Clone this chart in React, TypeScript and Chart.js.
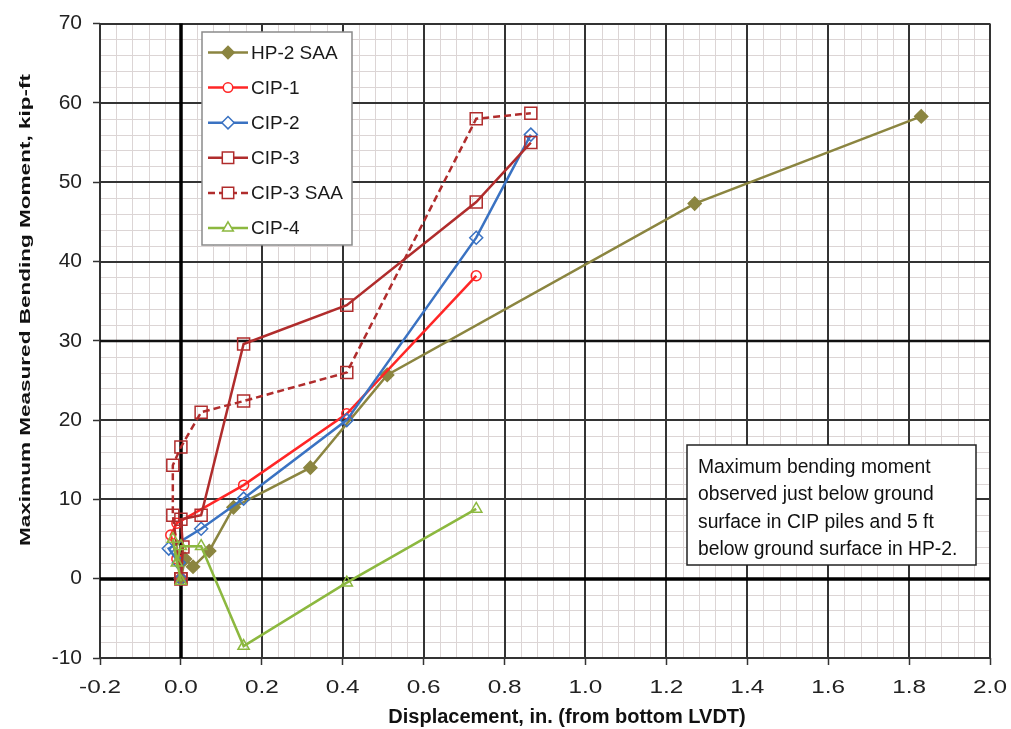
import React, { useEffect, useRef } from 'react';
import { Chart, registerables } from 'chart.js';

Chart.register(...registerables);

// ---------- data ----------
const seriesNames = ['HP-2 SAA', 'CIP-1', 'CIP-2', 'CIP-3', 'CIP-3 SAA', 'CIP-4'];

const hp2X = [0, 0.01, 0.03, 0.07, 0.13, 0.32, 0.51, 1.27, 1.83];
const hp2Y = [0, 2.5, 1.5, 3.5, 9, 14, 25.7, 47.3, 58.3];

const cip1X = [0, -0.01, -0.025, -0.01, 0.155, 0.41, 0.73];
const cip1Y = [0, 2.5, 5.5, 7, 11.8, 20.8, 38.2];

const cip2X = [0, -0.005, -0.03, 0.05, 0.155, 0.41, 0.73, 0.865];
const cip2Y = [0, 2, 3.8, 6.3, 10.1, 20, 43, 56];

const cip3X = [0, 0.005, 0, 0.05, 0.155, 0.41, 0.73, 0.865];
const cip3Y = [0, 4, 7.5, 8, 29.6, 34.5, 47.5, 55];

const cip3SaaX = [0, -0.02, -0.02, 0, 0.05, 0.155, 0.41, 0.73, 0.865];
const cip3SaaY = [0, 8, 14.3, 16.6, 21, 22.4, 26, 58, 58.7];

const cip4X = [0, -0.02, -0.01, 0, 0.05, 0.155, 0.41, 0.73];
const cip4Y = [-0.3, 5, 2, 4.1, 4.1, -8.5, -0.5, 8.8];

const xMajorTicks = [-0.2, 0, 0.2, 0.4, 0.6, 0.8, 1.0, 1.2, 1.4, 1.6, 1.8, 2.0];
const xTickLabels = ['-0.2', '0.0', '0.2', '0.4', '0.6', '0.8', '1.0', '1.2', '1.4', '1.6', '1.8', '2.0'];
const yMajorTicks = [-10, 0, 10, 20, 30, 40, 50, 60, 70];
const yTickLabels = ['-10', '0', '10', '20', '30', '40', '50', '60', '70'];

const xTitle = 'Displacement, in. (from bottom LVDT)';
const yTitle = 'Maximum Measured Bending Moment, kip-ft';
const noteLines = [
  'Maximum bending moment',
  'observed just below ground',
  'surface in CIP piles and 5 ft',
  'below ground surface in HP-2.',
];

// ---------- styles ----------
const FONT = "'Liberation Sans', Arial, sans-serif";
const colors = ['#8b8540', '#ff2626', '#3a72c2', '#b02c2c', '#b02c2c', '#8cb83f'];
const shapes = ['rectRot', 'circle', 'rectRot', 'rect', 'rect', 'triangle'];
const radii = [6.5, 5, 6.5, 8.5, 8.5, 6.5];
const filled = [true, false, false, false, false, false];
const dashes: number[][] = [[], [], [], [], [7, 4], []];

const allX = [hp2X, cip1X, cip2X, cip3X, cip3SaaX, cip4X];
const allY = [hp2Y, cip1Y, cip2Y, cip3Y, cip3SaaY, cip4Y];

const isMajor = (list: number[], v: number) => list.some((t) => Math.abs(t - v) < 1e-6);

function drawMarker(ctx: CanvasRenderingContext2D, shape: string, x: number, y: number, r: number, color: string, fill: boolean) {
  ctx.save();
  ctx.setLineDash([]);
  ctx.beginPath();
  if (shape === 'circle') {
    ctx.arc(x, y, r, 0, Math.PI * 2);
  } else if (shape === 'rectRot') {
    ctx.moveTo(x, y - r);
    ctx.lineTo(x + r, y);
    ctx.lineTo(x, y + r);
    ctx.lineTo(x - r, y);
    ctx.closePath();
  } else if (shape === 'rect') {
    const s = r * Math.SQRT1_2;
    ctx.rect(x - s, y - s, 2 * s, 2 * s);
  } else if (shape === 'triangle') {
    const hw = r * Math.sqrt(3) / 2;
    ctx.moveTo(x, y - r);
    ctx.lineTo(x + hw, y + r / 2);
    ctx.lineTo(x - hw, y + r / 2);
    ctx.closePath();
  }
  ctx.fillStyle = fill ? color : '#ffffff';
  ctx.fill();
  ctx.strokeStyle = color;
  ctx.lineWidth = 1.5;
  ctx.stroke();
  ctx.restore();
}

const gridPlugin = {
  id: 'customGrid',
  beforeDatasetsDraw(chart: any) {
    const { ctx, chartArea, scales } = chart;
    const { left, right, top, bottom } = chartArea;
    const xs = scales.x;
    const ys = scales.y;
    const vline = (p: number) => { ctx.beginPath(); ctx.moveTo(p, top); ctx.lineTo(p, bottom); ctx.stroke(); };
    const hline = (p: number) => { ctx.beginPath(); ctx.moveTo(left, p); ctx.lineTo(right, p); ctx.stroke(); };
    ctx.save();
    ctx.fillStyle = '#ffffff';
    ctx.fillRect(left, top, right - left, bottom - top);
    // minor
    ctx.strokeStyle = '#dcd5d5';
    ctx.lineWidth = 1;
    xs.ticks.forEach((t: any) => { if (!isMajor(xMajorTicks, t.value)) vline(Math.round(xs.getPixelForValue(t.value)) + 0.5); });
    ys.ticks.forEach((t: any) => { if (!isMajor(yMajorTicks, t.value)) hline(Math.round(ys.getPixelForValue(t.value)) + 0.5); });
    // major
    ctx.strokeStyle = '#333333';
    ctx.lineWidth = 2;
    xMajorTicks.forEach((v) => { if (v !== 0) vline(Math.round(xs.getPixelForValue(v))); });
    yMajorTicks.forEach((v) => { if (v !== 0 && v !== 30) hline(Math.round(ys.getPixelForValue(v))); });
    ctx.strokeStyle = '#111111';
    ctx.lineWidth = 2.6;
    hline(Math.round(ys.getPixelForValue(30)));
    // zero lines
    ctx.strokeStyle = '#000000';
    ctx.lineWidth = 3.5;
    vline(Math.round(xs.getPixelForValue(0)));
    hline(Math.round(ys.getPixelForValue(0)));
    ctx.restore();
  },
  afterDraw(chart: any) {
    const { ctx, chartArea, scales } = chart;
    const xs = scales.x;
    ctx.save();
    // x tick labels (slightly wide, as in the reference)
    ctx.fillStyle = '#222222';
    ctx.font = `19px ${FONT}`;
    ctx.textAlign = 'center';
    ctx.textBaseline = 'middle';
    xMajorTicks.forEach((v, i) => {
      ctx.save();
      ctx.translate(xs.getPixelForValue(v), chartArea.bottom + 30);
      ctx.scale(1.28, 1);
      ctx.fillText(xTickLabels[i], 0, 0);
      ctx.restore();
    });
    // x title
    ctx.fillStyle = '#111111';
    ctx.font = `bold 20px ${FONT}`;
    ctx.textAlign = 'center';
    ctx.textBaseline = 'alphabetic';
    ctx.fillText(xTitle, 567, 723);
    // y title (tall, narrow)
    ctx.save();
    ctx.translate(26, 310);
    ctx.rotate(-Math.PI / 2);
    ctx.font = `bold 15px ${FONT}`;
    const w = ctx.measureText(yTitle).width;
    ctx.scale(472 / w, 1);
    ctx.textAlign = 'center';
    ctx.textBaseline = 'middle';
    ctx.fillText(yTitle, 0, 0);
    ctx.restore();

    // legend box
    ctx.fillStyle = '#ffffff';
    ctx.fillRect(202, 32, 150, 213);
    ctx.strokeStyle = '#8a8a8a';
    ctx.lineWidth = 1.5;
    ctx.strokeRect(202, 32, 150, 213);
    seriesNames.forEach((name, i) => {
      const y = 52.5 + i * 35.1;
      ctx.save();
      ctx.strokeStyle = colors[i];
      ctx.lineWidth = 2.5;
      ctx.setLineDash(dashes[i]);
      ctx.beginPath();
      ctx.moveTo(208, y);
      ctx.lineTo(248, y);
      ctx.stroke();
      ctx.restore();
      drawMarker(ctx, shapes[i], 228, y, radii[i] * 0.95, colors[i], filled[i]);
      ctx.fillStyle = '#1a1a1a';
      ctx.font = `19px ${FONT}`;
      ctx.textAlign = 'left';
      ctx.textBaseline = 'middle';
      ctx.fillText(name, 251, y + 1);
    });

    // note box
    ctx.fillStyle = '#ffffff';
    ctx.fillRect(687, 445, 289, 120);
    ctx.strokeStyle = '#222222';
    ctx.lineWidth = 1.5;
    ctx.strokeRect(687, 445, 289, 120);
    ctx.fillStyle = '#111111';
    ctx.font = `19.3px ${FONT}`;
    ctx.textAlign = 'left';
    ctx.textBaseline = 'alphabetic';
    noteLines.forEach((line, i) => {
      ctx.fillText(line, 698, 473 + i * 27.3);
    });
    ctx.restore();
  },
};

export default function App() {
  const ref = useRef<HTMLCanvasElement>(null);

  useEffect(() => {
    if (!ref.current) return;
    const datasets = seriesNames.map((name, i) => ({
      label: name,
      data: allX[i].map((x, j) => ({ x, y: allY[i][j] })),
      showLine: true,
      borderColor: colors[i],
      backgroundColor: colors[i],
      borderWidth: 2.5,
      borderDash: dashes[i],
      pointStyle: shapes[i],
      pointRadius: radii[i],
      pointBorderWidth: 1.5,
      pointBorderColor: colors[i],
      pointBackgroundColor: filled[i] ? colors[i] : 'rgba(255,255,255,0)',
      order: seriesNames.length - i,
      clip: false as any,
    }));

    const chart = new Chart(ref.current, {
      type: 'scatter',
      data: { datasets },
      plugins: [gridPlugin],
      options: {
        responsive: false,
        animation: false,
        devicePixelRatio: 1,
        layout: { padding: { top: 20, right: 21, left: 0, bottom: 0 } },
        plugins: { legend: { display: false }, tooltip: { enabled: false } },
        scales: {
          x: {
            type: 'linear',
            min: -0.2,
            max: 2.0,
            ticks: { stepSize: 0.04, display: false, autoSkip: false },
            grid: {
              color: 'rgba(0,0,0,0)',
              drawOnChartArea: false,
              tickLength: 7,
              tickWidth: 1.5,
              tickColor: (c: any) => (c.tick && isMajor(xMajorTicks, c.tick.value) ? '#333333' : 'rgba(0,0,0,0)'),
            },
            border: { display: false },
            afterFit: (s: any) => { s.height = 71; },
          },
          y: {
            type: 'linear',
            min: -10,
            max: 70,
            ticks: {
              stepSize: 2,
              autoSkip: false,
              padding: 11,
              color: '#222222',
              font: { size: 21, family: FONT },
              callback: (v: any) => {
                const idx = yMajorTicks.findIndex((t) => Math.abs(t - Number(v)) < 1e-6);
                return idx >= 0 ? yTickLabels[idx] : '';
              },
            },
            grid: {
              color: 'rgba(0,0,0,0)',
              drawOnChartArea: false,
              tickLength: 7,
              tickWidth: 1.5,
              tickColor: (c: any) => (c.tick && isMajor(yMajorTicks, c.tick.value) ? '#333333' : 'rgba(0,0,0,0)'),
            },
            border: { display: false },
            afterFit: (s: any) => { s.width = 100; },
          },
        },
      },
    });
    return () => chart.destroy();
  }, []);

  return (
    <div style={{ position: 'absolute', left: 0, top: 0, width: 1011, height: 729, background: '#ffffff' }}>
      <canvas ref={ref} width={1011} height={729} />
    </div>
  );
}
